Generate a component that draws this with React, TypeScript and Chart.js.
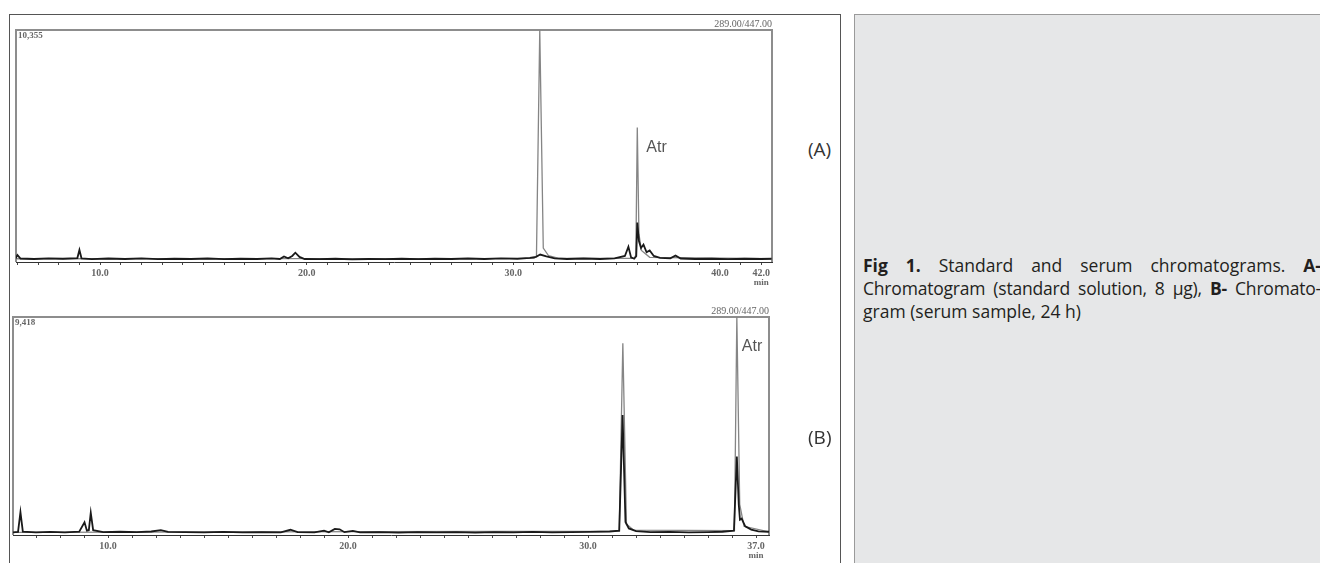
import React, { useEffect, useRef } from "react";
import { Chart, registerables } from "chart.js";

Chart.register(...registerables);

// ---------- Chromatogram A (standard solution) ----------
const aTimes = [5.9, 6.0, 6.15, 6.8, 7.5, 8.2, 8.9, 9.0, 9.1, 9.6, 10.4, 11.2, 12.0, 12.8, 13.6, 14.4, 15.2, 16.0, 16.8, 17.6, 18.3, 18.7, 18.9, 19.1, 19.3, 19.45, 19.65, 19.9, 20.6, 21.4, 22.2, 23.0, 23.8, 24.6, 25.4, 26.2, 27.0, 27.8, 28.6, 29.4, 30.2, 30.8, 31.1, 31.3, 31.6, 32.0, 32.6, 33.4, 34.2, 34.9, 35.4, 35.57, 35.7, 35.85, 35.95, 36.0, 36.08, 36.18, 36.3, 36.45, 36.6, 36.8, 37.1, 37.6, 37.85, 38.1, 38.8, 39.6, 40.4, 41.2, 42.0, 42.5];
const aBlack = [1.4, 3.0, 1.5, 1.3, 1.6, 1.4, 1.7, 5.2, 1.6, 1.2, 1.5, 1.3, 1.6, 1.2, 1.4, 1.3, 1.5, 1.2, 1.4, 1.3, 1.6, 1.3, 2.4, 1.6, 2.6, 4.0, 2.2, 1.3, 1.2, 1.4, 1.1, 1.3, 1.2, 1.4, 1.2, 1.4, 1.3, 1.5, 1.3, 1.6, 1.4, 1.8, 2.2, 3.2, 2.4, 1.6, 1.3, 1.5, 1.3, 1.6, 2.6, 6.6, 2.0, 1.4, 2.5, 17, 9, 6, 7.5, 4.2, 5.0, 2.6, 1.8, 1.6, 2.8, 1.5, 1.3, 1.4, 1.2, 1.4, 1.3, 1.4];
const aGrayTimes = [5.9, 31.0, 31.12, 31.28, 31.45, 31.7, 32.2, 35.85, 35.93, 36.0, 36.08, 36.2, 36.6, 42.5];
const aGray = [1.4, 1.6, 2.5, 100, 6, 2.8, 1.6, 1.6, 3, 58, 12, 5, 2, 1.4];
const aTicks = [6, 7, 8, 9, 10, 11, 12, 13, 14, 15, 16, 17, 18, 19, 20, 21, 22, 23, 24, 25, 26, 27, 28, 29, 30, 31, 32, 33, 34, 35, 36, 37, 38, 39, 40, 41, 42];
const aTickLabels = [10, 20, 30, 40, 42];
const aRange = [5.93, 42.52];
const aHeader = "10,355";
const aAtr = [36.0, 58];

// ---------- Chromatogram B (serum sample) ----------
const bTimes = [6.04, 6.25, 6.35, 6.45, 7.0, 7.6, 8.2, 8.8, 9.02, 9.12, 9.2, 9.28, 9.38, 9.8, 10.5, 11.2, 11.8, 12.2, 12.5, 13.2, 14.0, 14.8, 15.6, 16.4, 17.2, 17.6, 17.9, 18.6, 19.0, 19.2, 19.45, 19.65, 19.85, 20.2, 20.5, 21.3, 22.1, 22.9, 23.7, 24.5, 25.3, 26.1, 26.9, 27.7, 28.5, 29.3, 30.1, 30.9, 31.3, 31.44, 31.56, 31.7, 32.0, 32.6, 33.4, 34.2, 35.0, 35.6, 36.08, 36.2, 36.28, 36.33, 36.4, 36.55, 36.8, 37.1, 37.54];
const bBlack = [1.2, 1.4, 10.5, 1.5, 1.2, 1.4, 1.2, 1.5, 5.8, 2.0, 2.2, 10.2, 2.2, 1.3, 1.5, 1.3, 1.6, 2.2, 1.4, 1.3, 1.2, 1.4, 1.2, 1.3, 1.2, 2.4, 1.3, 1.2, 2.0, 1.2, 2.8, 2.6, 1.3, 1.9, 1.2, 1.3, 1.1, 1.3, 1.2, 1.3, 1.1, 1.3, 1.2, 1.4, 1.2, 1.3, 1.4, 1.6, 2.0, 55, 6, 3, 1.8, 1.3, 1.4, 1.2, 1.3, 1.5, 2.0, 36, 14, 7, 7.5, 4, 2.5, 1.7, 1.5];
const bGrayTimes = [6.04, 31.3, 31.45, 31.6, 31.9, 36.1, 36.2, 36.32, 36.5, 37.54];
const bGray = [1.2, 1.8, 88, 5, 2.2, 2.0, 100, 14, 4, 1.4];
const bTicks = [7, 8, 9, 10, 11, 12, 13, 14, 15, 16, 17, 18, 19, 20, 21, 22, 23, 24, 25, 26, 27, 28, 29, 30, 31, 32, 33, 34, 35, 36, 37];
const bTickLabels = [10, 20, 30, 37];
const bRange = [6.04, 37.54];
const bHeader = "9,418";
const bAtr = [36.2, 100];

const mzLabel = "289.00/447.00";
const peakName = "Atr";
const unitLabel = "min";

const SERIF = '"Liberation Serif", "Times New Roman", serif';
const SANS = '"Liberation Sans", Arial, sans-serif';

type Cfg = {
  left: number; top: number; w: number; h: number;
  pad: { left: number; right: number; top: number; bottom: number };
  axisH: number;
  times: number[]; black: number[]; grayTimes: number[]; gray: number[];
  ticks: number[]; labels: number[]; range: number[];
  header: string; atr: number[]; atrOffset: number[];
};

function Chromatogram({ cfg }: { cfg: Cfg }) {
  const ref = useRef<HTMLCanvasElement>(null);
  useEffect(() => {
    const framePlugin = {
      id: "frame",
      beforeDatasetsDraw(chart: any) {
        const { ctx, chartArea } = chart;
        const { left, right, top, bottom } = chartArea;
        ctx.save();
        ctx.strokeStyle = "#8d8d8d";
        ctx.lineWidth = 2;
        ctx.beginPath();
        ctx.moveTo(left, bottom);
        ctx.lineTo(left, top);
        ctx.lineTo(right, top);
        ctx.lineTo(right, bottom);
        ctx.stroke();
        ctx.restore();
      },
      afterDraw(chart: any) {
        const { ctx, chartArea, scales } = chart;
        const { left, right, top, bottom } = chartArea;
        ctx.save();
        ctx.fillStyle = "#666";
        ctx.font = `bold 9px ${SERIF}`;
        ctx.textBaseline = "middle";
        ctx.textAlign = "left";
        ctx.fillText(cfg.header, left + 2, top + 6);
        ctx.font = `10px ${SERIF}`;
        ctx.textAlign = "right";
        ctx.fillText(mzLabel, right, top - 6);
        ctx.textAlign = "center";
        const lastLab = cfg.labels[cfg.labels.length - 1];
        ctx.font = `bold 9px ${SERIF}`;
        ctx.fillText(unitLabel, scales.x.getPixelForValue(lastLab), bottom + 21);
        ctx.fillStyle = "#555";
        ctx.font = `16px ${SANS}`;
        ctx.textAlign = "left";
        const px = scales.x.getPixelForValue(cfg.atr[0]) + cfg.atrOffset[0];
        const py = scales.y.getPixelForValue(cfg.atr[1]) + cfg.atrOffset[1];
        ctx.fillText(peakName, px, py);
        ctx.restore();
      },
    };
    const chart = new Chart(ref.current as HTMLCanvasElement, {
      type: "line",
      data: {
        datasets: [
          {
            data: cfg.black.map((v, i) => ({ x: cfg.times[i], y: v })),
            borderColor: "#1a1a1a",
            borderWidth: 1.8,
            pointRadius: 0,
            tension: 0,
            order: 0,
          },
          {
            data: cfg.gray.map((v, i) => ({ x: cfg.grayTimes[i], y: v })),
            borderColor: "#858585",
            borderWidth: 1.3,
            pointRadius: 0,
            tension: 0,
            order: 1,
          },
        ],
      },
      options: {
        animation: false,
        responsive: false,
        layout: { padding: cfg.pad },
        plugins: { legend: { display: false }, tooltip: { enabled: false } },
        scales: {
          x: {
            type: "linear",
            min: cfg.range[0],
            max: cfg.range[1],
            afterBuildTicks: (s: any) => {
              s.ticks = cfg.ticks.map((v) => ({ value: v }));
            },
            afterFit: (s: any) => {
              s.height = cfg.axisH;
            },
            ticks: {
              autoSkip: false,
              maxRotation: 0,
              padding: 2,
              color: "#666",
              font: { family: SERIF, size: 10, weight: "bold" },
              callback: (v: any) => (cfg.labels.includes(Number(v)) ? Number(v).toFixed(1) : ""),
            },
            grid: { drawOnChartArea: false, tickLength: 3, color: "#444", lineWidth: 1 },
            border: { color: "#333", width: 1 },
          },
          y: { display: false, min: 0, max: 100 },
        },
      },
      plugins: [framePlugin],
    } as any);
    return () => chart.destroy();
  }, []);
  return (
    <canvas
      ref={ref}
      width={cfg.w}
      height={cfg.h}
      style={{ position: "absolute", left: cfg.left, top: cfg.top, width: cfg.w, height: cfg.h }}
    />
  );
}

const cfgA: Cfg = {
  left: 0, top: 0, w: 800, h: 300,
  pad: { left: 16, right: 28, top: 30, bottom: 8 },
  axisH: 30,
  times: aTimes, black: aBlack, grayTimes: aGrayTimes, gray: aGray,
  ticks: aTicks, labels: aTickLabels, range: aRange,
  header: aHeader, atr: aAtr, atrOffset: [9, 20],
};

const cfgB: Cfg = {
  left: 0, top: 290, w: 800, h: 273,
  pad: { left: 13, right: 31, top: 27, bottom: 4 },
  axisH: 24,
  times: bTimes, black: bBlack, grayTimes: bGrayTimes, gray: bGray,
  ticks: bTicks, labels: bTickLabels, range: bRange,
  header: bHeader, atr: bAtr, atrOffset: [5, 30],
};

const capFont = '"Open Sans", "Noto Sans", sans-serif';

export default function App() {
  const lineStyle: React.CSSProperties = {
    textAlign: "justify",
    textAlignLast: "justify",
    whiteSpace: "nowrap",
    height: 23,
  };
  return (
    <div
      style={{
        position: "absolute", left: 0, top: 0, width: 1320, height: 563,
        overflow: "hidden", background: "#fff",
      }}
    >
      <div
        style={{
          position: "absolute", left: 9, top: 14, width: 832, height: 620,
          boxSizing: "border-box", border: "1px solid #555",
        }}
      />
      <div
        style={{
          position: "absolute", left: 854, top: 14, width: 480, height: 620,
          boxSizing: "border-box", background: "#e6e7e8",
          borderLeft: "1px solid #9a9a9a", borderTop: "1px solid #9a9a9a",
        }}
      />
      <Chromatogram cfg={cfgA} />
      <Chromatogram cfg={cfgB} />
      <div style={{ position: "absolute", left: 808, top: 136, font: `19px ${capFont}`, color: "#333" }}>(A)</div>
      <div style={{ position: "absolute", left: 808, top: 424, font: `19px ${capFont}`, color: "#333" }}>(B)</div>
      <div
        style={{
          position: "absolute", left: 863, top: 254, width: 458,
          font: `17.5px ${capFont}`, lineHeight: "23px", color: "#231f20",
        }}
      >
        <div style={lineStyle}>
          <b>Fig 1.</b> Standard and serum chromatograms. <b>A-</b>
        </div>
        <div style={{ ...lineStyle, letterSpacing: "-0.2px" }}>
          Chromatogram (standard solution, 8 µg), <b>B-</b> Chromato-
        </div>
        <div style={{ whiteSpace: "nowrap", height: 23 }}>gram (serum sample, 24 h)</div>
      </div>
    </div>
  );
}
